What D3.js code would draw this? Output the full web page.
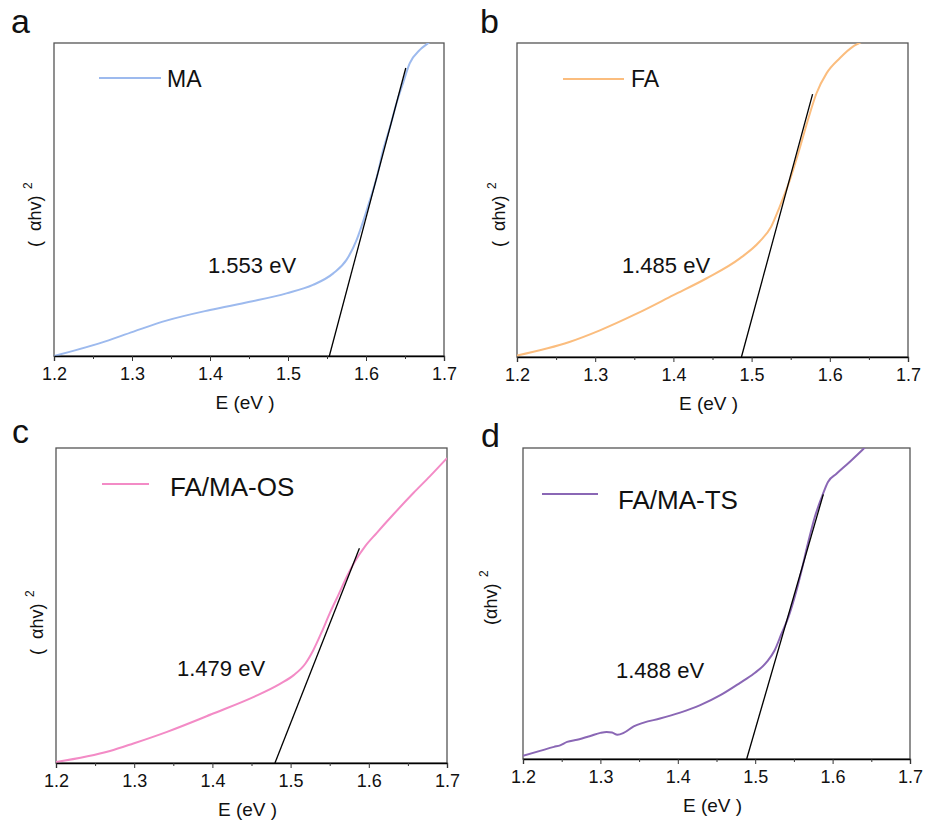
<!DOCTYPE html>
<html>
<head>
<meta charset="utf-8">
<script src="https://cdn.jsdelivr.net/npm/d3@7"></script>
<style>
  body { margin: 0; background: #fff; }
  text { font-family: "Liberation Sans", Arial, sans-serif; fill: #111; white-space: pre; }
</style>
</head>
<body>
<div id="chart"></div>
<script>
// x range / ticks shared by all panels
var xTicks = [1.2, 1.3, 1.4, 1.5, 1.6, 1.7];
var xMinorTicks = [1.25, 1.35, 1.45, 1.55, 1.65];

// MA
var maE = [1.2, 1.259, 1.302, 1.344, 1.4, 1.451, 1.498, 1.532, 1.558, 1.575, 1.588, 1.597, 1.605, 1.614, 1.622, 1.631, 1.639, 1.648, 1.656, 1.669, 1.68, 1.69];
var maV = [0, 0.041, 0.078, 0.113, 0.147, 0.173, 0.2, 0.227, 0.264, 0.307, 0.371, 0.435, 0.498, 0.573, 0.658, 0.733, 0.807, 0.876, 0.935, 0.978, 1.0, 1.02];
var maFit = [[1.553, 0], [1.651, 0.92]];

// FA
var faE = [1.2, 1.267, 1.306, 1.353, 1.4, 1.442, 1.485, 1.51, 1.525, 1.536, 1.549, 1.561, 1.572, 1.583, 1.596, 1.613, 1.63, 1.638, 1.65];
var faV = [0.005, 0.048, 0.085, 0.138, 0.197, 0.25, 0.314, 0.367, 0.415, 0.479, 0.564, 0.66, 0.755, 0.84, 0.904, 0.952, 0.989, 1.0, 1.02];
var faFit = [[1.487, 0], [1.578, 0.837]];

// FA/MA-OS
var osE = [1.2, 1.269, 1.299, 1.342, 1.401, 1.453, 1.487, 1.504, 1.519, 1.529, 1.54, 1.55, 1.561, 1.572, 1.582, 1.595, 1.61, 1.631, 1.657, 1.678, 1.7];
var osV = [0.003, 0.038, 0.062, 0.099, 0.157, 0.21, 0.252, 0.279, 0.316, 0.358, 0.417, 0.475, 0.533, 0.592, 0.639, 0.687, 0.73, 0.788, 0.857, 0.91, 0.968];
var osFit = [[1.48, 0], [1.588, 0.682]];

// FA/MA-TS
var tsE = [1.2, 1.222, 1.24, 1.248, 1.257, 1.27, 1.287, 1.3, 1.308, 1.315, 1.322, 1.33, 1.343, 1.356, 1.377, 1.403, 1.429, 1.455, 1.48, 1.498, 1.515, 1.525, 1.534, 1.543, 1.551, 1.56, 1.568, 1.577, 1.586, 1.594, 1.605, 1.622, 1.639, 1.641, 1.65];
var tsV = [0.01, 0.026, 0.039, 0.044, 0.055, 0.062, 0.074, 0.084, 0.087, 0.085, 0.078, 0.084, 0.105, 0.117, 0.13, 0.149, 0.173, 0.205, 0.244, 0.274, 0.312, 0.349, 0.403, 0.457, 0.521, 0.607, 0.692, 0.778, 0.842, 0.891, 0.917, 0.955, 0.995, 1.0, 1.01];
var tsFit = [[1.489, 0], [1.588, 0.851]];

var seriesNames = ["MA", "FA", "FA/MA-OS", "FA/MA-TS"];
var gapLabels = ["1.553 eV", "1.485 eV", "1.479 eV", "1.488 eV"];
var panelLetters = ["a", "b", "c", "d"];
var colors = ["#9dbaee", "#fbbd7e", "#f38bc6", "#8a67b5"];

var panels = [
  {E: maE, V: maV, fit: maFit, left: 54, right: 444, top: 43, bottom: 356,
   letter: [11, 33], legend: {x1: 99, x2: 161, y: 78, tx: 167, ty: 87, fs: 23},
   gap: [208, 273], ylab: {x: 41, y: 247, text: "(  \u03b1hv)"}},
  {E: faE, V: faV, fit: faFit, left: 517, right: 908, top: 43, bottom: 357,
   letter: [480, 33], legend: {x1: 563, x2: 624, y: 79, tx: 631, ty: 87, fs: 23},
   gap: [622, 273], ylab: {x: 505, y: 247, text: "(  \u03b1hv)"}},
  {E: osE, V: osV, fit: osFit, left: 56, right: 447, top: 448, bottom: 763,
   letter: [12, 443], legend: {x1: 102, x2: 149, y: 484, tx: 170, ty: 496, fs: 26},
   gap: [177, 676], ylab: {x: 43, y: 655, text: "(  \u03b1hv)"}},
  {E: tsE, V: tsV, fit: tsFit, left: 523, right: 910, top: 448, bottom: 759,
   letter: [481, 447], legend: {x1: 542, x2: 598, y: 494, tx: 618, ty: 509, fs: 26},
   gap: [616, 678], ylab: {x: 497, y: 625, text: "(\u03b1hv)"}}
];

var svg = d3.select("#chart").append("svg")
  .attr("width", 926)
  .attr("height", 827);

panels.forEach(function(p, i) {
  var x = d3.scaleLinear().domain([1.2, 1.7]).range([p.left, p.right]);
  var y = d3.scaleLinear().domain([0, 1]).range([p.bottom, p.top]);

  var clipId = "clip" + i;
  svg.append("clipPath").attr("id", clipId)
    .append("rect")
    .attr("x", p.left).attr("y", p.top)
    .attr("width", p.right - p.left).attr("height", p.bottom - p.top);

  // frame
  svg.append("rect")
    .attr("x", p.left).attr("y", p.top)
    .attr("width", p.right - p.left).attr("height", p.bottom - p.top)
    .attr("fill", "none")
    .attr("stroke", "#555")
    .attr("stroke-width", 1.3);

  // curve
  var pts = p.E.map(function(e, k) { return [e, p.V[k]]; });
  var line = d3.line()
    .x(function(d) { return x(d[0]); })
    .y(function(d) { return y(d[1]); })
    .curve(d3.curveMonotoneX);

  svg.append("path")
    .datum(pts)
    .attr("clip-path", "url(#" + clipId + ")")
    .attr("d", line)
    .attr("fill", "none")
    .attr("stroke", colors[i])
    .attr("stroke-width", 2);

  // tangent fit
  svg.append("path")
    .datum(p.fit)
    .attr("d", d3.line().x(function(d) { return x(d[0]); }).y(function(d) { return y(d[1]); }))
    .attr("stroke", "#000")
    .attr("stroke-width", 1.3);

  // x axis
  var ax = svg.append("g")
    .attr("transform", "translate(0," + p.bottom + ")")
    .call(d3.axisBottom(x).tickValues(xTicks).tickSize(5).tickPadding(6)
      .tickFormat(d3.format(".1f")));
  ax.select(".domain").attr("stroke", "#000").attr("stroke-width", 1.3);
  ax.selectAll(".tick line").attr("stroke", "#333");
  ax.selectAll("text")
    .attr("font-size", 18)
    .attr("fill", "#111")
    .style("font-family", "'Liberation Sans', Arial, sans-serif");

  svg.append("g")
    .attr("transform", "translate(0," + p.bottom + ")")
    .call(d3.axisBottom(x).tickValues(xMinorTicks).tickSize(3).tickFormat(""))
    .call(function(g) { g.select(".domain").remove(); })
    .selectAll(".tick line").attr("stroke", "#333");

  svg.append("text")
    .attr("x", (p.left + p.right) / 2 - 4)
    .attr("y", p.bottom + 53)
    .attr("text-anchor", "middle")
    .attr("font-size", 19)
    .text("E (eV )");

  // y label
  var yl = svg.append("text")
    .attr("transform", "translate(" + p.ylab.x + "," + p.ylab.y + ") rotate(-90)")
    .attr("font-size", 18)
    .text(p.ylab.text);
  yl.append("tspan")
    .attr("font-size", 12)
    .attr("dy", -9)
    .text("  2");

  // legend
  svg.append("line")
    .attr("x1", p.legend.x1).attr("x2", p.legend.x2)
    .attr("y1", p.legend.y).attr("y2", p.legend.y)
    .attr("stroke", colors[i])
    .attr("stroke-width", 2);
  svg.append("text")
    .attr("x", p.legend.tx).attr("y", p.legend.ty)
    .attr("font-size", p.legend.fs)
    .text(seriesNames[i]);

  // band gap annotation
  svg.append("text")
    .attr("x", p.gap[0]).attr("y", p.gap[1])
    .attr("font-size", 22)
    .text(gapLabels[i]);

  // panel letter
  svg.append("text")
    .attr("x", p.letter[0]).attr("y", p.letter[1])
    .attr("font-size", 34)
    .text(panelLetters[i]);
});
</script>
</body>
</html>
